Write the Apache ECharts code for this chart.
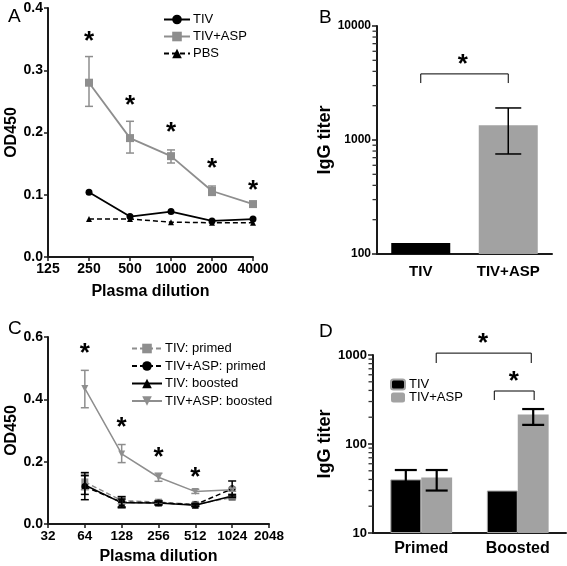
<!DOCTYPE html>
<html><head><meta charset="utf-8">
<script src="https://cdn.jsdelivr.net/npm/echarts@6/dist/echarts.min.js"></script>
<style>html,body{margin:0;padding:0;background:#fff}#c{width:567px;height:566px}</style>
</head><body><div id="c"></div>
<script>
// ---- Panel A ----
const aDil = ['125','250','500','1000','2000','4000'];
const aTIV = [null,0.104,0.065,0.073,0.058,0.061];
const aASP = [null,0.280,0.191,0.162,0.106,0.085];
const aASPlo = [null,0.242,0.167,0.151,0.099,0.083];
const aASPhi = [null,0.322,0.218,0.172,0.114,0.087];
const aPBS = [null,0.061,0.061,0.056,0.055,0.055];
const aStar = [null,0.345,0.243,0.200,0.142,0.107];
// ---- Panel B ----
const bCats = ['TIV','TIV+ASP'];
const bVals = [125,1350];
const bLo = [null,754];
const bHi = [null,1910];
const bBracket = [[0,1,3800,3160]];
const bStar = [[0.48,4600]];
const bMinor = [200,300,400,500,600,700,800,900,2000,3000,4000,5000,6000,7000,8000,9000];
// ---- Panel C ----
const cDil = ['32','64','128','256','512','1024','2048'];
const cTIVp = [null,0.135,0.075,0.070,0.063,0.085,null];
const cTIVpLo = [null,0.110,0.065,0.064,0.059,0.081,null];
const cTIVpHi = [null,0.160,0.085,0.076,0.067,0.089,null];
const cASPp = [null,0.120,0.070,0.068,0.062,0.113,null];
const cASPpLo = [null,0.078,0.052,0.062,0.058,0.090,null];
const cASPpHi = [null,0.165,0.088,0.074,0.066,0.138,null];
const cTIVb = [null,0.125,0.068,0.067,0.060,0.090,null];
const cTIVbLo = [null,0.095,0.055,0.061,0.056,0.085,null];
const cTIVbHi = [null,0.155,0.080,0.073,0.064,0.095,null];
const cASPb = [null,0.435,0.225,0.150,0.104,0.110,null];
const cASPbLo = [null,0.373,0.197,0.137,0.098,0.105,null];
const cASPbHi = [null,0.493,0.255,0.163,0.111,0.115,null];
const cStar = [null,0.545,0.31,0.212,0.149,null,null];
// ---- Panel D ----
const dCats = ['Primed','Boosted'];
const dTIV = [40,30];
const dTIVlo = [31,null];
const dTIVhi = [51,null];
const dASP = [42,215];
const dASPlo = [30,164];
const dASPhi = [51,247];
const dBrackets = [[0.155,1.14,1050,813],[0.757,1.17,394,312]];
const dStars = [[0.64,1330],[0.96,500]];
const dMinor = [20,30,40,50,60,70,80,90,200,300,400,500,600,700,800,900];

const FONT = 'Liberation Sans, Arial, sans-serif';
const GREY = '#8e8e8e';
const BARGREY = '#a2a2a2';
const AXC = '#1a1a1a';

const chart = echarts.init(document.getElementById('c'), null, {renderer:'canvas'});

function axisBase(){
  return {
    axisLine:{show:true,lineStyle:{color:AXC,width:2}},
    axisTick:{show:true,inside:false,length:4,lineStyle:{color:AXC,width:1.5}},
    splitLine:{show:false},
    axisLabel:{color:'#000',fontFamily:FONT,fontWeight:'bold'},
    nameTextStyle:{color:'#000',fontFamily:FONT,fontWeight:'bold'}
  };
}

function errData(lo,hi){
  const out=[];
  lo.forEach((v,i)=>{ if(v!=null) out.push([i,lo[i],hi[i]]); });
  return out;
}
function errSeries(gi,lo,hi,color,capW,lw,offFrac){
  return {
    type:'custom', xAxisIndex:gi, yAxisIndex:gi, z:5, silent:true,
    data: errData(lo,hi),
    renderItem:(params,api)=>{
      const i=api.value(0);
      const pl=api.coord([i,api.value(1)]);
      const ph=api.coord([i,api.value(2)]);
      let x=pl[0];
      if(offFrac){ x += api.size([1,0])[0]*offFrac; }
      const st={stroke:color,lineWidth:lw,fill:null};
      return {type:'group',children:[
        {type:'line',shape:{x1:x,y1:pl[1],x2:x,y2:ph[1]},style:st},
        {type:'line',shape:{x1:x-capW/2,y1:pl[1],x2:x+capW/2,y2:pl[1]},style:st},
        {type:'line',shape:{x1:x-capW/2,y1:ph[1],x2:x+capW/2,y2:ph[1]},style:st}
      ]};
    }
  };
}
function catX(api,p){
  const c0=api.coord([0,api.value(2)])[0];
  const c1=api.coord([1,api.value(2)])[0];
  return c0+p*(c1-c0);
}
function bracketSeries(gi,arr){
  return {
    type:'custom', xAxisIndex:gi, yAxisIndex:gi, z:5, silent:true, clip:false,
    data: arr,
    renderItem:(params,api)=>{
      const x1=catX(api,api.value(0)), x2=catX(api,api.value(1));
      const y=api.coord([0,api.value(2)])[1];
      const yt=api.coord([0,api.value(3)])[1];
      return {type:'polyline',shape:{points:[[x1,yt],[x1,y],[x2,y],[x2,yt]]},
        style:{stroke:'#000',lineWidth:1,fill:null}};
    }
  };
}
function minorTickSeries(gi,vals){
  return {
    type:'custom', xAxisIndex:gi, yAxisIndex:gi, z:20, silent:true, clip:false,
    data: vals.map(v=>[0,v]),
    renderItem:(params,api)=>{
      const p=api.coord([0,api.value(1)]);
      const half=api.size([1,0])[0]/2;
      const x0=p[0]-half;
      return {type:'line',shape:{x1:x0-4.5,y1:p[1],x2:x0,y2:p[1]},style:{stroke:'#333',lineWidth:1.3}};
    }
  };
}
function starSeriesCat(gi,arr,size){
  return {
    type:'custom', xAxisIndex:gi, yAxisIndex:gi, z:6, silent:true, clip:false,
    data: arr.map(d=>[d[0],d[1],d[1]]),
    renderItem:(params,api)=>{
      const x=catX(api,api.value(0));
      const y=api.coord([0,api.value(1)])[1];
      return {type:'text',x:x,y:y,style:{text:'*',font:'bold '+size+'px '+FONT,fill:'#000',align:'center',verticalAlign:'middle'}};
    }
  };
}
function starSeriesIdx(gi,arr,size){
  const data=[];
  arr.forEach((v,i)=>{ if(v!=null) data.push([i,v]); });
  return {
    type:'custom', xAxisIndex:gi, yAxisIndex:gi, z:6, silent:true, clip:false,
    data,
    renderItem:(params,api)=>{
      const p=api.coord([api.value(0),api.value(1)]);
      return {type:'text',x:p[0],y:p[1],style:{text:'*',font:'bold '+size+'px '+FONT,fill:'#000',align:'center',verticalAlign:'middle'}};
    }
  };
}

const grids=[
  {left:48,top:8,width:205,height:249},
  {left:377,top:26,width:175,height:228},
  {left:48,top:337,width:221,height:190},
  {left:373,top:355,width:193,height:178}
];

const xA=Object.assign(axisBase(),{gridIndex:0,type:'category',data:aDil,boundaryGap:false,
  name:'Plasma dilution',nameLocation:'middle',nameGap:27});
xA.axisLabel.fontSize=14; xA.axisLabel.margin=5; xA.axisLabel.interval=0;
xA.nameTextStyle.fontSize=16; xA.axisTick.interval=0;
const yA=Object.assign(axisBase(),{gridIndex:0,type:'value',min:0,max:0.4,interval:0.1,
  name:'OD450',nameLocation:'middle',nameGap:28,nameRotate:90});
yA.axisLabel.fontSize=14; yA.axisLabel.formatter=v=>v.toFixed(1); yA.axisLabel.margin=5;
yA.nameTextStyle.fontSize=16;

const xB=Object.assign(axisBase(),{gridIndex:1,type:'category',data:bCats,
  axisTick:{show:false}});
xB.axisLabel.fontSize=15; xB.axisLabel.margin=10;
const yB=Object.assign(axisBase(),{gridIndex:1,type:'log',logBase:10,min:100,max:10000,startValue:100,
  name:'IgG titer',nameLocation:'middle',nameGap:37,nameRotate:90});
yB.axisLabel.fontSize=12; yB.axisLabel.margin=6; yB.axisLabel.formatter=v=>String(Math.round(v));
yB.axisTick.length=5;
yB.nameTextStyle.fontSize=18;

const xC=Object.assign(axisBase(),{gridIndex:2,type:'category',data:cDil,boundaryGap:false,
  name:'Plasma dilution',nameLocation:'middle',nameGap:25});
xC.axisLabel.fontSize=13.5; xC.axisLabel.margin=5; xC.axisLabel.interval=0;
xC.nameTextStyle.fontSize=16;
const yC=Object.assign(axisBase(),{gridIndex:2,type:'value',min:0,max:0.6,interval:0.2,
  name:'OD450',nameLocation:'middle',nameGap:28,nameRotate:90});
yC.axisLabel.fontSize=14; yC.axisLabel.formatter=v=>v.toFixed(1); yC.axisLabel.margin=5;
yC.nameTextStyle.fontSize=16;

const xD=Object.assign(axisBase(),{gridIndex:3,type:'category',data:dCats,axisTick:{show:false}});
xD.axisLabel.fontSize=16; xD.axisLabel.margin=8;
const yD=Object.assign(axisBase(),{gridIndex:3,type:'log',logBase:10,min:10,max:1000,startValue:10,
  name:'IgG titer',nameLocation:'middle',nameGap:30,nameRotate:90});
yD.axisLabel.fontSize=13; yD.axisLabel.margin=6; yD.axisLabel.formatter=v=>String(Math.round(v));
yD.axisTick.length=5;
yD.nameTextStyle.fontSize=18;

const lineCommon={type:'line',symbolKeepAspect:true,connectNulls:false};

const option={
  animation:false,
  backgroundColor:'#fff',
  textStyle:{fontFamily:FONT},
  grid:grids,
  xAxis:[xA,xB,xC,xD],
  yAxis:[yA,yB,yC,yD],
  title:[
    {text:'A',left:3,top:2,textStyle:{fontSize:19,fontWeight:'normal',color:'#000',fontFamily:FONT}},
    {text:'B',left:314,top:3,textStyle:{fontSize:19,fontWeight:'normal',color:'#000',fontFamily:FONT}},
    {text:'C',left:3,top:314,textStyle:{fontSize:19,fontWeight:'normal',color:'#000',fontFamily:FONT}},
    {text:'D',left:314,top:317,textStyle:{fontSize:19,fontWeight:'normal',color:'#000',fontFamily:FONT}}
  ],
  legend:[
    {data:['TIV','TIV+ASP','PBS'],orient:'vertical',left:158,top:8,itemWidth:26,itemHeight:12,itemGap:4,
      textStyle:{fontSize:13,color:'#000',fontFamily:FONT,padding:[0,0,0,-2]}},
    {data:['TIV: primed','TIV+ASP: primed','TIV: boosted','TIV+ASP: boosted'],orient:'vertical',left:126,top:337,
      itemWidth:30,itemHeight:12,itemGap:4.5,textStyle:{fontSize:13,color:'#000',fontFamily:FONT,padding:[0,0,0,-2]}},
    {data:['TIV ','TIV+ASP '],orient:'vertical',left:385,top:373,itemWidth:14,itemHeight:10,itemGap:0,
      textStyle:{fontSize:13,color:'#000',fontFamily:FONT,lineHeight:10,padding:[0,0,0,-1]}}
  ],
  series:[
    // Panel A
    Object.assign({},lineCommon,{name:'PBS',xAxisIndex:0,yAxisIndex:0,data:aPBS,symbol:'triangle',symbolSize:6,
      lineStyle:{color:'#000',width:1.5,type:[5,3]},itemStyle:{color:'#000'}}),
    Object.assign({},lineCommon,{name:'TIV',xAxisIndex:0,yAxisIndex:0,data:aTIV,symbol:'circle',symbolSize:7,
      lineStyle:{color:'#000',width:1.8},itemStyle:{color:'#000'}}),
    errSeries(0,aASPlo,aASPhi,GREY,8,1.5,0),
    Object.assign({},lineCommon,{name:'TIV+ASP',xAxisIndex:0,yAxisIndex:0,data:aASP,symbol:'rect',symbolSize:8,
      lineStyle:{color:GREY,width:1.8},itemStyle:{color:GREY}}),
    starSeriesIdx(0,aStar,26),
    // Panel B
    {type:'bar',name:'Btiv',xAxisIndex:1,yAxisIndex:1,data:bVals.map((v,i)=>({value:v,itemStyle:{color:i===0?'#000':BARGREY}})),
      barWidth:59,clip:true},
    errSeries(1,bLo,bHi,'#000',26,1.5,0),
    bracketSeries(1,bBracket),
    starSeriesCat(1,bStar,26),
    minorTickSeries(1,bMinor),
    // Panel C
    errSeries(2,cTIVpLo,cTIVpHi,GREY,8,1.5,0),
    Object.assign({},lineCommon,{name:'TIV: primed',xAxisIndex:2,yAxisIndex:2,data:cTIVp,symbol:'rect',symbolSize:7,
      lineStyle:{color:GREY,width:1.5,type:[5,3]},itemStyle:{color:GREY}}),
    errSeries(2,cTIVbLo,cTIVbHi,'#000',8,1.5,0),
    Object.assign({},lineCommon,{name:'TIV: boosted',xAxisIndex:2,yAxisIndex:2,data:cTIVb,symbol:'triangle',symbolSize:7,
      lineStyle:{color:'#000',width:1.5},itemStyle:{color:'#000'}}),
    errSeries(2,cASPpLo,cASPpHi,'#000',8,1.5,0),
    Object.assign({},lineCommon,{name:'TIV+ASP: primed',xAxisIndex:2,yAxisIndex:2,data:cASPp,symbol:'circle',symbolSize:7,
      lineStyle:{color:'#000',width:1.5,type:[5,3]},itemStyle:{color:'#000'}}),
    errSeries(2,cASPbLo,cASPbHi,GREY,8,1.5,0),
    Object.assign({},lineCommon,{name:'TIV+ASP: boosted',xAxisIndex:2,yAxisIndex:2,data:cASPb,symbol:'triangle',symbolRotate:180,symbolSize:7,
      lineStyle:{color:GREY,width:1.5},itemStyle:{color:GREY}}),
    starSeriesIdx(2,cStar,26),
    // Panel D
    {type:'bar',name:'TIV ',xAxisIndex:3,yAxisIndex:3,data:dTIV,barWidth:'32%',barGap:'0%',
      itemStyle:{color:'#000',borderColor:BARGREY,borderWidth:1},clip:true},
    {type:'bar',name:'TIV+ASP ',xAxisIndex:3,yAxisIndex:3,data:dASP,barWidth:'32%',barGap:'0%',
      itemStyle:{color:BARGREY},clip:true},
    errSeries(3,dTIVlo,dTIVhi,'#000',22,2.2,-0.16),
    errSeries(3,dASPlo,dASPhi,'#000',22,2.2,0.16),
    bracketSeries(3,dBrackets),
    starSeriesCat(3,dStars,26),
    minorTickSeries(3,dMinor)
  ]
};
chart.setOption(option);
</script>
</body></html>
